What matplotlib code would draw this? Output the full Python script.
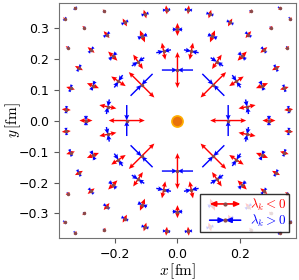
import numpy as np
import matplotlib.pyplot as plt
from matplotlib.lines import Line2D
from matplotlib.patches import FancyArrowPatch
from matplotlib.legend_handler import HandlerBase

plt.rcParams['mathtext.fontset'] = 'cm'

# polar sampling grid: ring radius [fm], points per ring, angular shift (in steps)
ring_r = [0.163, 0.228, 0.294, 0.359, 0.424, 0.489]
ring_n = [8, 16, 16, 32, 32, 64]
ring_shift = [0.0, 0.5, 0.0, 0.5, 0.0, 0.5]
# half lengths of the eigenvector arrows on each ring
len_neg = [0.058, 0.028, 0.021, 0.0145, 0.008, 0.007]   # radial, lambda_k < 0
len_pos = [0.050, 0.024, 0.0155, 0.012, 0.005, 0.007]   # tangential, lambda_k > 0

dot_color = '#8c4a4a'


class ArrowPair(HandlerBase):
    def __init__(self, inward):
        super().__init__()
        self.inward = inward

    def create_artists(self, legend, orig_handle, xdescent, ydescent,
                       width, height, fontsize, trans):
        c = orig_handle.get_color()
        inset = 5
        x0, x1 = -xdescent + inset, width - xdescent - inset
        xm = 0.5 * (x0 + x1)
        y = 0.5 * height - ydescent
        if self.inward:
            segs = [(x0, xm), (x1, xm)]
        else:
            segs = [(xm, x0), (xm, x1)]
        arts = []
        for a, b in segs:
            arts.append(FancyArrowPatch((a, y), (b, y),
                                        arrowstyle='-|>,head_length=0.35,head_width=0.15',
                                        mutation_scale=10, color=c, lw=1.2,
                                        shrinkA=0, shrinkB=0, transform=trans))
        arts.append(Line2D([xm], [y], marker='o', ms=2, ls='', color=dot_color,
                           transform=trans))
        return arts


x, y, ux, uy, ln, lp = [], [], [], [], [], []
for r, n, s, a, b in zip(ring_r, ring_n, ring_shift, len_neg, len_pos):
    th = 2 * np.pi * (np.arange(n) + s) / n
    x.append(r * np.cos(th))
    y.append(r * np.sin(th))
    ux.append(np.cos(th))
    uy.append(np.sin(th))
    ln.append(np.full(n, a))
    lp.append(np.full(n, b))
x, y, ux, uy, ln, lp = [np.concatenate(v) for v in (x, y, ux, uy, ln, lp)]
tx, ty = -uy, ux

fig = plt.figure(figsize=(2.99, 2.8), dpi=100)
ax = fig.add_axes([0.198, 0.149, 0.791, 0.841])

kw = dict(angles='xy', scale_units='xy', scale=1, width=0.006,
          headwidth=3.5, headlength=4, headaxislength=3.5)
for sgn in (1, -1):
    ax.quiver(x, y, sgn * ln * ux, sgn * ln * uy, color='red', pivot='tail', **kw)
for sgn in (1, -1):
    ax.quiver(x, y, sgn * lp * tx, sgn * lp * ty, color='blue', pivot='tip', **kw)
ax.plot(x, y, 'o', ms=1.5, color=dot_color, ls='')
ax.plot(0, 0, 'o', ms=8, mfc='#e8710a', mec='#ffae00', mew=1.2, zorder=5)

ax.set_xlim(-0.38, 0.38)
ax.set_ylim(-0.38, 0.38)
ax.set_xticks([-0.2, 0.0, 0.2])
ax.set_yticks([-0.3, -0.2, -0.1, 0.0, 0.1, 0.2, 0.3])
ax.tick_params(labelsize=9, color='0.35')
for sp in ax.spines.values():
    sp.set_color('0.45')
ax.set_xlabel(r'$x\,[\mathrm{fm}]$', fontsize=11)
ax.set_ylabel(r'$y\,[\mathrm{fm}]$', fontsize=11)
ax.xaxis.set_label_coords(0.5, -0.097)
ax.yaxis.set_label_coords(-0.155, 0.5)

h_neg = Line2D([], [], color='red')
h_pos = Line2D([], [], color='blue')
ax.legend([h_neg, h_pos], [r'$\lambda_k < 0$', r'$\lambda_k > 0$'],
          handler_map={h_neg: ArrowPair(False), h_pos: ArrowPair(True)},
          loc='lower right', fancybox=False, edgecolor='k',
          labelcolor='linecolor', fontsize=9.5, handlelength=3.4,
          labelspacing=0.0, borderpad=0.2, handletextpad=0.2)

fig.savefig('out.png', dpi=100)
